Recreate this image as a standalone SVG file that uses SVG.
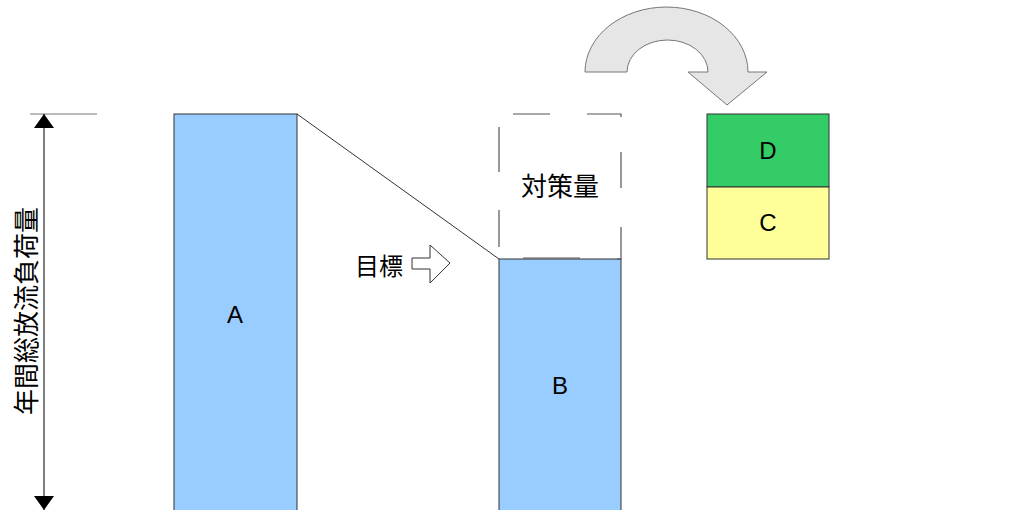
<svg xmlns="http://www.w3.org/2000/svg" width="1011" height="510" viewBox="0 0 1011 510">
<style>
.lbl{font-family:"Liberation Sans","Noto Sans CJK JP",sans-serif;font-size:24px;fill:#000;text-anchor:middle;dominant-baseline:central}
.bar{fill:#99ccff;stroke:#333;stroke-width:1}
.ln{stroke:#000;stroke-width:1;fill:none}
</style>
<defs>
<marker id="ah" viewBox="0 0 14 20" refX="14" refY="10" markerWidth="14" markerHeight="20" markerUnits="userSpaceOnUse" orient="auto-start-reverse">
<path d="M0,0 L14,10 L0,20 Z" fill="#000"/>
</marker>
</defs>
<rect width="1011" height="510" fill="#fff"/>
<g id="connectors">
<line x1="30" y1="114" x2="97" y2="114" stroke="#777" stroke-width="1"/>
<line class="ln" x1="44" y1="114" x2="44" y2="510" marker-start="url(#ah)" marker-end="url(#ah)"/>
<line x1="297" y1="114" x2="499" y2="259" stroke="#333" stroke-width="1"/>
</g>
<g id="axis-label">
<text class="lbl" transform="translate(27,311) rotate(-90)" style="font-size:26px">年間総放流負荷量</text>
</g>
<g id="nodeA">
<rect class="bar" x="174" y="114" width="123" height="400"/>
<text class="lbl" x="235" y="314">A</text>
</g>
<g id="nodeB">
<rect class="bar" x="499" y="259" width="122" height="255"/>
<text class="lbl" x="560" y="385">B</text>
</g>
<g id="taisaku">
<path d="M513,114 H550 M587,114 H621 V117 M621,152 V188 M621,227 V259 H617 M580,258 H523 M499,247 V210 M499,172 V127" stroke="#555" stroke-width="1.2" fill="none"/>
<text class="lbl" x="560" y="187" style="font-size:26px">対策量</text>
</g>
<g id="target">
<text class="lbl" x="379" y="266">目標</text>
<path d="M412,258 H430 V245 L450,263 L430,283 V269 H412 Z" fill="#fff" stroke="#333" stroke-width="1"/>
</g>
<g id="nodeD">
<rect x="707" y="114" width="122" height="73" fill="#33cc66" stroke="#333" stroke-width="1"/>
<text class="lbl" x="768" y="150">D</text>
</g>
<g id="nodeC">
<rect x="707" y="187" width="122" height="72" fill="#ffff99" stroke="#333" stroke-width="1"/>
<text class="lbl" x="768" y="222">C</text>
</g>
<g id="curved-arrow">
<path d="M585,72 A81.5,65 0 0 1 748,72 L767,72 L727,105 L688,72 L708,72 A40.5,32 0 0 0 627,72 Z" fill="#e6e6e6" stroke="#777" stroke-width="1"/>
</g>
</svg>
